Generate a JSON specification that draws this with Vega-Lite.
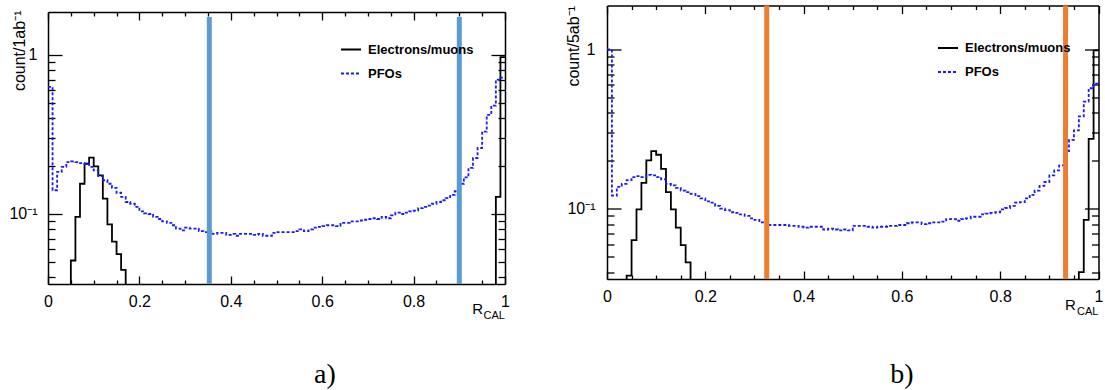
{
  "$schema": "https://vega.github.io/schema/vega-lite/v6.json",
  "padding": {"left": 8, "top": 2.5, "right": 0, "bottom": 0},
  "background": "white",
  "spacing": 54,
  "resolve": {"scale": {"color": "independent", "strokeDash": "independent"}},
  "config": {
    "view": {"stroke": null},
    "font": "Liberation Sans",
    "axis": {"grid": false, "domainColor": "#000000", "domainWidth": 1.5, "tickColor": "#000000", "tickWidth": 1.3, "labelFont": "Liberation Sans", "labelFontSize": 16, "labelColor": "#000000", "titleFont": "Liberation Sans", "titleFontWeight": "normal", "titleColor": "#000000", "titleFontSize": 16, "labelFlush": false, "labelOverlap": false, "labelBound": false}
  },
  "datasets": {
    "histA": [
      {"edge": 0.04, "count": 0.001, "series": "Electrons/muons"},
      {"edge": 0.05, "count": 0.051, "series": "Electrons/muons"},
      {"edge": 0.06, "count": 0.096, "series": "Electrons/muons"},
      {"edge": 0.07, "count": 0.155, "series": "Electrons/muons"},
      {"edge": 0.08, "count": 0.207, "series": "Electrons/muons"},
      {"edge": 0.09, "count": 0.226, "series": "Electrons/muons"},
      {"edge": 0.10, "count": 0.199, "series": "Electrons/muons"},
      {"edge": 0.11, "count": 0.175, "series": "Electrons/muons"},
      {"edge": 0.12, "count": 0.125, "series": "Electrons/muons"},
      {"edge": 0.13, "count": 0.086, "series": "Electrons/muons"},
      {"edge": 0.14, "count": 0.067, "series": "Electrons/muons"},
      {"edge": 0.15, "count": 0.056, "series": "Electrons/muons"},
      {"edge": 0.16, "count": 0.0446, "series": "Electrons/muons"},
      {"edge": 0.17, "count": 0.001, "series": "Electrons/muons"},
      {"edge": 0.97, "count": 0.001, "series": "Electrons/muons"},
      {"edge": 0.98, "count": 0.128, "series": "Electrons/muons"},
      {"edge": 0.99, "count": 0.97, "series": "Electrons/muons"},
      {"edge": 1.00, "count": 0.97, "series": "Electrons/muons"},
      {"edge": 0.00, "count": 0.63, "series": "PFOs"},
      {"edge": 0.01, "count": 0.141, "series": "PFOs"},
      {"edge": 0.02, "count": 0.184, "series": "PFOs"},
      {"edge": 0.03, "count": 0.198, "series": "PFOs"},
      {"edge": 0.04, "count": 0.212, "series": "PFOs"},
      {"edge": 0.05, "count": 0.214, "series": "PFOs"},
      {"edge": 0.06, "count": 0.212, "series": "PFOs"},
      {"edge": 0.07, "count": 0.209, "series": "PFOs"},
      {"edge": 0.08, "count": 0.207, "series": "PFOs"},
      {"edge": 0.09, "count": 0.198, "series": "PFOs"},
      {"edge": 0.10, "count": 0.188, "series": "PFOs"},
      {"edge": 0.11, "count": 0.173, "series": "PFOs"},
      {"edge": 0.12, "count": 0.163, "series": "PFOs"},
      {"edge": 0.13, "count": 0.155, "series": "PFOs"},
      {"edge": 0.14, "count": 0.146, "series": "PFOs"},
      {"edge": 0.15, "count": 0.136, "series": "PFOs"},
      {"edge": 0.16, "count": 0.128, "series": "PFOs"},
      {"edge": 0.17, "count": 0.119, "series": "PFOs"},
      {"edge": 0.18, "count": 0.116, "series": "PFOs"},
      {"edge": 0.19, "count": 0.111, "series": "PFOs"},
      {"edge": 0.20, "count": 0.104, "series": "PFOs"},
      {"edge": 0.21, "count": 0.101, "series": "PFOs"},
      {"edge": 0.22, "count": 0.100, "series": "PFOs"},
      {"edge": 0.23, "count": 0.096, "series": "PFOs"},
      {"edge": 0.24, "count": 0.093, "series": "PFOs"},
      {"edge": 0.25, "count": 0.090, "series": "PFOs"},
      {"edge": 0.26, "count": 0.088, "series": "PFOs"},
      {"edge": 0.27, "count": 0.085, "series": "PFOs"},
      {"edge": 0.28, "count": 0.081, "series": "PFOs"},
      {"edge": 0.29, "count": 0.079, "series": "PFOs"},
      {"edge": 0.30, "count": 0.082, "series": "PFOs"},
      {"edge": 0.31, "count": 0.081, "series": "PFOs"},
      {"edge": 0.32, "count": 0.081, "series": "PFOs"},
      {"edge": 0.33, "count": 0.078, "series": "PFOs"},
      {"edge": 0.34, "count": 0.077, "series": "PFOs"},
      {"edge": 0.35, "count": 0.078, "series": "PFOs"},
      {"edge": 0.36, "count": 0.075, "series": "PFOs"},
      {"edge": 0.37, "count": 0.076, "series": "PFOs"},
      {"edge": 0.38, "count": 0.076, "series": "PFOs"},
      {"edge": 0.39, "count": 0.074, "series": "PFOs"},
      {"edge": 0.40, "count": 0.075, "series": "PFOs"},
      {"edge": 0.41, "count": 0.073, "series": "PFOs"},
      {"edge": 0.42, "count": 0.075, "series": "PFOs"},
      {"edge": 0.43, "count": 0.075, "series": "PFOs"},
      {"edge": 0.44, "count": 0.075, "series": "PFOs"},
      {"edge": 0.45, "count": 0.074, "series": "PFOs"},
      {"edge": 0.46, "count": 0.075, "series": "PFOs"},
      {"edge": 0.47, "count": 0.073, "series": "PFOs"},
      {"edge": 0.48, "count": 0.073, "series": "PFOs"},
      {"edge": 0.49, "count": 0.076, "series": "PFOs"},
      {"edge": 0.50, "count": 0.077, "series": "PFOs"},
      {"edge": 0.51, "count": 0.077, "series": "PFOs"},
      {"edge": 0.52, "count": 0.077, "series": "PFOs"},
      {"edge": 0.53, "count": 0.077, "series": "PFOs"},
      {"edge": 0.54, "count": 0.078, "series": "PFOs"},
      {"edge": 0.55, "count": 0.080, "series": "PFOs"},
      {"edge": 0.56, "count": 0.078, "series": "PFOs"},
      {"edge": 0.57, "count": 0.080, "series": "PFOs"},
      {"edge": 0.58, "count": 0.082, "series": "PFOs"},
      {"edge": 0.59, "count": 0.083, "series": "PFOs"},
      {"edge": 0.60, "count": 0.084, "series": "PFOs"},
      {"edge": 0.61, "count": 0.085, "series": "PFOs"},
      {"edge": 0.62, "count": 0.085, "series": "PFOs"},
      {"edge": 0.63, "count": 0.084, "series": "PFOs"},
      {"edge": 0.64, "count": 0.088, "series": "PFOs"},
      {"edge": 0.65, "count": 0.088, "series": "PFOs"},
      {"edge": 0.66, "count": 0.090, "series": "PFOs"},
      {"edge": 0.67, "count": 0.090, "series": "PFOs"},
      {"edge": 0.68, "count": 0.091, "series": "PFOs"},
      {"edge": 0.69, "count": 0.092, "series": "PFOs"},
      {"edge": 0.70, "count": 0.093, "series": "PFOs"},
      {"edge": 0.71, "count": 0.094, "series": "PFOs"},
      {"edge": 0.72, "count": 0.093, "series": "PFOs"},
      {"edge": 0.73, "count": 0.096, "series": "PFOs"},
      {"edge": 0.74, "count": 0.094, "series": "PFOs"},
      {"edge": 0.75, "count": 0.098, "series": "PFOs"},
      {"edge": 0.76, "count": 0.102, "series": "PFOs"},
      {"edge": 0.77, "count": 0.100, "series": "PFOs"},
      {"edge": 0.78, "count": 0.102, "series": "PFOs"},
      {"edge": 0.79, "count": 0.104, "series": "PFOs"},
      {"edge": 0.80, "count": 0.105, "series": "PFOs"},
      {"edge": 0.81, "count": 0.109, "series": "PFOs"},
      {"edge": 0.82, "count": 0.111, "series": "PFOs"},
      {"edge": 0.83, "count": 0.113, "series": "PFOs"},
      {"edge": 0.84, "count": 0.116, "series": "PFOs"},
      {"edge": 0.85, "count": 0.119, "series": "PFOs"},
      {"edge": 0.86, "count": 0.122, "series": "PFOs"},
      {"edge": 0.87, "count": 0.126, "series": "PFOs"},
      {"edge": 0.88, "count": 0.132, "series": "PFOs"},
      {"edge": 0.89, "count": 0.139, "series": "PFOs"},
      {"edge": 0.90, "count": 0.155, "series": "PFOs"},
      {"edge": 0.91, "count": 0.170, "series": "PFOs"},
      {"edge": 0.92, "count": 0.195, "series": "PFOs"},
      {"edge": 0.93, "count": 0.225, "series": "PFOs"},
      {"edge": 0.94, "count": 0.26, "series": "PFOs"},
      {"edge": 0.95, "count": 0.33, "series": "PFOs"},
      {"edge": 0.96, "count": 0.42, "series": "PFOs"},
      {"edge": 0.97, "count": 0.48, "series": "PFOs"},
      {"edge": 0.98, "count": 0.70, "series": "PFOs"},
      {"edge": 0.99, "count": 0.72, "series": "PFOs"},
      {"edge": 1.00, "count": 0.72, "series": "PFOs"}
    ],
    "histB": [
      {"edge": 0.03, "count": 0.001, "series": "Electrons/muons"},
      {"edge": 0.04, "count": 0.038, "series": "Electrons/muons"},
      {"edge": 0.05, "count": 0.0634, "series": "Electrons/muons"},
      {"edge": 0.06, "count": 0.099, "series": "Electrons/muons"},
      {"edge": 0.07, "count": 0.145, "series": "Electrons/muons"},
      {"edge": 0.08, "count": 0.201, "series": "Electrons/muons"},
      {"edge": 0.09, "count": 0.230, "series": "Electrons/muons"},
      {"edge": 0.10, "count": 0.218, "series": "Electrons/muons"},
      {"edge": 0.11, "count": 0.178, "series": "Electrons/muons"},
      {"edge": 0.12, "count": 0.127, "series": "Electrons/muons"},
      {"edge": 0.13, "count": 0.099, "series": "Electrons/muons"},
      {"edge": 0.14, "count": 0.076, "series": "Electrons/muons"},
      {"edge": 0.15, "count": 0.059, "series": "Electrons/muons"},
      {"edge": 0.16, "count": 0.046, "series": "Electrons/muons"},
      {"edge": 0.17, "count": 0.001, "series": "Electrons/muons"},
      {"edge": 0.95, "count": 0.001, "series": "Electrons/muons"},
      {"edge": 0.96, "count": 0.040, "series": "Electrons/muons"},
      {"edge": 0.97, "count": 0.085, "series": "Electrons/muons"},
      {"edge": 0.98, "count": 0.274, "series": "Electrons/muons"},
      {"edge": 0.99, "count": 0.986, "series": "Electrons/muons"},
      {"edge": 1.00, "count": 0.986, "series": "Electrons/muons"},
      {"edge": 0.00, "count": 1.0, "series": "PFOs"},
      {"edge": 0.01, "count": 0.121, "series": "PFOs"},
      {"edge": 0.02, "count": 0.137, "series": "PFOs"},
      {"edge": 0.03, "count": 0.143, "series": "PFOs"},
      {"edge": 0.04, "count": 0.151, "series": "PFOs"},
      {"edge": 0.05, "count": 0.158, "series": "PFOs"},
      {"edge": 0.06, "count": 0.160, "series": "PFOs"},
      {"edge": 0.07, "count": 0.158, "series": "PFOs"},
      {"edge": 0.08, "count": 0.163, "series": "PFOs"},
      {"edge": 0.09, "count": 0.162, "series": "PFOs"},
      {"edge": 0.10, "count": 0.158, "series": "PFOs"},
      {"edge": 0.11, "count": 0.153, "series": "PFOs"},
      {"edge": 0.12, "count": 0.143, "series": "PFOs"},
      {"edge": 0.13, "count": 0.140, "series": "PFOs"},
      {"edge": 0.14, "count": 0.135, "series": "PFOs"},
      {"edge": 0.15, "count": 0.130, "series": "PFOs"},
      {"edge": 0.16, "count": 0.127, "series": "PFOs"},
      {"edge": 0.17, "count": 0.124, "series": "PFOs"},
      {"edge": 0.18, "count": 0.120, "series": "PFOs"},
      {"edge": 0.19, "count": 0.116, "series": "PFOs"},
      {"edge": 0.20, "count": 0.111, "series": "PFOs"},
      {"edge": 0.21, "count": 0.109, "series": "PFOs"},
      {"edge": 0.22, "count": 0.104, "series": "PFOs"},
      {"edge": 0.23, "count": 0.100, "series": "PFOs"},
      {"edge": 0.24, "count": 0.098, "series": "PFOs"},
      {"edge": 0.25, "count": 0.095, "series": "PFOs"},
      {"edge": 0.26, "count": 0.094, "series": "PFOs"},
      {"edge": 0.27, "count": 0.092, "series": "PFOs"},
      {"edge": 0.28, "count": 0.090, "series": "PFOs"},
      {"edge": 0.29, "count": 0.087, "series": "PFOs"},
      {"edge": 0.30, "count": 0.085, "series": "PFOs"},
      {"edge": 0.31, "count": 0.082, "series": "PFOs"},
      {"edge": 0.32, "count": 0.082, "series": "PFOs"},
      {"edge": 0.33, "count": 0.079, "series": "PFOs"},
      {"edge": 0.34, "count": 0.079, "series": "PFOs"},
      {"edge": 0.35, "count": 0.079, "series": "PFOs"},
      {"edge": 0.36, "count": 0.079, "series": "PFOs"},
      {"edge": 0.37, "count": 0.078, "series": "PFOs"},
      {"edge": 0.38, "count": 0.078, "series": "PFOs"},
      {"edge": 0.39, "count": 0.077, "series": "PFOs"},
      {"edge": 0.40, "count": 0.076, "series": "PFOs"},
      {"edge": 0.41, "count": 0.077, "series": "PFOs"},
      {"edge": 0.42, "count": 0.077, "series": "PFOs"},
      {"edge": 0.43, "count": 0.077, "series": "PFOs"},
      {"edge": 0.44, "count": 0.074, "series": "PFOs"},
      {"edge": 0.45, "count": 0.075, "series": "PFOs"},
      {"edge": 0.46, "count": 0.074, "series": "PFOs"},
      {"edge": 0.47, "count": 0.073, "series": "PFOs"},
      {"edge": 0.48, "count": 0.074, "series": "PFOs"},
      {"edge": 0.49, "count": 0.073, "series": "PFOs"},
      {"edge": 0.50, "count": 0.078, "series": "PFOs"},
      {"edge": 0.51, "count": 0.078, "series": "PFOs"},
      {"edge": 0.52, "count": 0.078, "series": "PFOs"},
      {"edge": 0.53, "count": 0.077, "series": "PFOs"},
      {"edge": 0.54, "count": 0.076, "series": "PFOs"},
      {"edge": 0.55, "count": 0.077, "series": "PFOs"},
      {"edge": 0.56, "count": 0.077, "series": "PFOs"},
      {"edge": 0.57, "count": 0.078, "series": "PFOs"},
      {"edge": 0.58, "count": 0.078, "series": "PFOs"},
      {"edge": 0.59, "count": 0.079, "series": "PFOs"},
      {"edge": 0.60, "count": 0.079, "series": "PFOs"},
      {"edge": 0.61, "count": 0.081, "series": "PFOs"},
      {"edge": 0.62, "count": 0.082, "series": "PFOs"},
      {"edge": 0.63, "count": 0.082, "series": "PFOs"},
      {"edge": 0.64, "count": 0.080, "series": "PFOs"},
      {"edge": 0.65, "count": 0.081, "series": "PFOs"},
      {"edge": 0.66, "count": 0.082, "series": "PFOs"},
      {"edge": 0.67, "count": 0.082, "series": "PFOs"},
      {"edge": 0.68, "count": 0.083, "series": "PFOs"},
      {"edge": 0.69, "count": 0.086, "series": "PFOs"},
      {"edge": 0.70, "count": 0.086, "series": "PFOs"},
      {"edge": 0.71, "count": 0.084, "series": "PFOs"},
      {"edge": 0.72, "count": 0.086, "series": "PFOs"},
      {"edge": 0.73, "count": 0.087, "series": "PFOs"},
      {"edge": 0.74, "count": 0.089, "series": "PFOs"},
      {"edge": 0.75, "count": 0.089, "series": "PFOs"},
      {"edge": 0.76, "count": 0.092, "series": "PFOs"},
      {"edge": 0.77, "count": 0.093, "series": "PFOs"},
      {"edge": 0.78, "count": 0.094, "series": "PFOs"},
      {"edge": 0.79, "count": 0.095, "series": "PFOs"},
      {"edge": 0.80, "count": 0.099, "series": "PFOs"},
      {"edge": 0.81, "count": 0.101, "series": "PFOs"},
      {"edge": 0.82, "count": 0.104, "series": "PFOs"},
      {"edge": 0.83, "count": 0.109, "series": "PFOs"},
      {"edge": 0.84, "count": 0.110, "series": "PFOs"},
      {"edge": 0.85, "count": 0.116, "series": "PFOs"},
      {"edge": 0.86, "count": 0.122, "series": "PFOs"},
      {"edge": 0.87, "count": 0.130, "series": "PFOs"},
      {"edge": 0.88, "count": 0.139, "series": "PFOs"},
      {"edge": 0.89, "count": 0.147, "series": "PFOs"},
      {"edge": 0.90, "count": 0.162, "series": "PFOs"},
      {"edge": 0.91, "count": 0.174, "series": "PFOs"},
      {"edge": 0.92, "count": 0.187, "series": "PFOs"},
      {"edge": 0.93, "count": 0.23, "series": "PFOs"},
      {"edge": 0.94, "count": 0.27, "series": "PFOs"},
      {"edge": 0.95, "count": 0.31, "series": "PFOs"},
      {"edge": 0.96, "count": 0.38, "series": "PFOs"},
      {"edge": 0.97, "count": 0.47, "series": "PFOs"},
      {"edge": 0.98, "count": 0.57, "series": "PFOs"},
      {"edge": 0.99, "count": 0.61, "series": "PFOs"},
      {"edge": 1.00, "count": 0.61, "series": "PFOs"}
    ],
    "cutsA": [{"cut": 0.353}, {"cut": 0.900}],
    "cutsB": [{"cut": 0.325}, {"cut": 0.933}]
  },
  "hconcat": [
    {
      "spacing": 3.5,
      "vconcat": [
        {
          "width": 457,
          "height": 1,
          "data": {"values": []},
          "mark": "point"
        },
        {
          "width": 457,
          "height": 272,
          "resolve": {"axis": {"x": "independent", "y": "independent"}},
          "layer": [
            {
              "data": {"name": "histA"},
              "mark": {"type": "line", "interpolate": "step-after", "clip": true, "strokeWidth": 1.8},
              "encoding": {
                "x": {"field": "edge", "type": "quantitative", "scale": {"domain": [0, 1], "nice": false, "zero": false},
                  "axis": {"orient": "bottom", "title": null, "values": [0,0.05,0.1,0.15,0.2,0.25,0.3,0.35,0.4,0.45,0.5,0.55,0.6,0.65,0.7,0.75,0.8,0.85,0.9,0.95,1],
                    "labelExpr": "round(datum.value*100) % 20 == 0 ? format(datum.value, '~g') : ''",
                    "tickSize": {"condition": {"test": "round(datum.value*100) % 20 == 0", "value": -8}, "value": -4},
                    "labelPadding": 17}},
                "y": {"field": "count", "type": "quantitative", "scale": {"type": "log", "domain": [0.0363, 1.862], "nice": false},
                  "axis": {"orient": "left", "values": [0.04,0.05,0.06,0.07,0.08,0.09,0.1,0.2,0.3,0.4,0.5,0.6,0.7,0.8,0.9,1],
                    "labelExpr": "datum.value == 1 ? '1' : (datum.value == 0.1 ? '10⁻¹' : '')",
                    "tickSize": {"condition": {"test": "datum.value == 1 || datum.value == 0.1", "value": -14}, "value": -7},
                    "labelPadding": 25,
                    "title": "count/1ab⁻¹", "titleX": -29, "titleY": -2, "titleAlign": "right", "titleBaseline": "middle", "titleAngle": -90}},
                "color": {"field": "series", "type": "nominal", "scale": {"domain": ["Electrons/muons", "PFOs"], "range": ["#000000", "#1a1aff"]},
                  "legend": {"orient": "none", "legendX": 292, "legendY": 33, "title": null, "symbolType": "stroke", "symbolSize": 400, "symbolStrokeWidth": 2, "labelFont": "Liberation Sans", "labelFontSize": 13, "labelFontWeight": "bold", "labelColor": "#000000", "labelOffset": 6, "rowPadding": 6, "padding": 0}},
                "strokeDash": {"field": "series", "type": "nominal", "scale": {"domain": ["Electrons/muons", "PFOs"], "range": [[1, 0], [3, 2]]},
                  "legend": {"orient": "none", "legendX": 292, "legendY": 33, "title": null}}
              }
            },
            {
              "data": {"name": "cutsA"},
              "mark": {"type": "rule", "color": "#5b9bd5", "strokeWidth": 5},
              "encoding": {
                "x": {"field": "cut", "type": "quantitative", "scale": {"domain": [0, 1], "nice": false, "zero": false}, "axis": null},
                "y": {"datum": 1.73, "type": "quantitative", "scale": {"type": "log", "domain": [0.0363, 1.862], "nice": false}, "axis": null},
                "y2": {"datum": 0.0363}
              }
            },
            {
              "data": {"values": [{"label": "R"}]},
              "mark": {"type": "text", "align": "right", "baseline": "alphabetic", "dx": -22, "dy": 30, "fontSize": 15, "font": "Liberation Sans", "color": "#000000"},
              "encoding": {
                "text": {"field": "label"},
                "x": {"datum": 1, "type": "quantitative", "scale": {"domain": [0, 1], "nice": false, "zero": false},
                  "axis": {"orient": "top", "labels": false, "title": null, "values": [0,0.05,0.1,0.15,0.2,0.25,0.3,0.35,0.4,0.45,0.5,0.55,0.6,0.65,0.7,0.75,0.8,0.85,0.9,0.95,1],
                    "tickSize": {"condition": {"test": "round(datum.value*100) % 20 == 0", "value": -8}, "value": -4}, "minExtent": 1, "maxExtent": 1}},
                "y": {"datum": 0.0363, "type": "quantitative", "scale": {"type": "log", "domain": [0.0363, 1.862], "nice": false},
                  "axis": {"orient": "right", "labels": false, "title": null, "values": [0.04,0.05,0.06,0.07,0.08,0.09,0.1,0.2,0.3,0.4,0.5,0.6,0.7,0.8,0.9,1],
                    "tickSize": {"condition": {"test": "datum.value == 1 || datum.value == 0.1", "value": -14}, "value": -7}, "minExtent": 1, "maxExtent": 1}}
              }
            },
            {
              "data": {"values": [{"label": "CAL"}]},
              "mark": {"type": "text", "align": "right", "baseline": "alphabetic", "dx": 0, "dy": 35, "fontSize": 11, "font": "Liberation Sans", "color": "#000000"},
              "encoding": {
                "text": {"field": "label"},
                "x": {"datum": 1, "type": "quantitative", "scale": {"domain": [0, 1], "nice": false, "zero": false}, "axis": null},
                "y": {"datum": 0.0363, "type": "quantitative", "scale": {"type": "log", "domain": [0.0363, 1.862], "nice": false}, "axis": null}
              }
            },
            {
              "data": {"values": [{"label": "a)"}]},
              "mark": {"type": "text", "align": "center", "baseline": "alphabetic", "dy": 99, "fontSize": 28, "font": "Liberation Serif", "color": "#000000"},
              "encoding": {
                "text": {"field": "label"},
                "x": {"datum": 0.606, "type": "quantitative", "scale": {"domain": [0, 1], "nice": false, "zero": false}, "axis": null},
                "y": {"datum": 0.0363, "type": "quantitative", "scale": {"type": "log", "domain": [0.0363, 1.862], "nice": false}, "axis": null}
              }
            }
          ]
        }
      ]
    },
    {
      "width": 491.5,
      "height": 273.5,
      "resolve": {"axis": {"x": "independent", "y": "independent"}},
      "layer": [
        {
          "data": {"name": "histB"},
          "mark": {"type": "line", "interpolate": "step-after", "clip": true, "strokeWidth": 1.8},
          "encoding": {
            "x": {"field": "edge", "type": "quantitative", "scale": {"domain": [0, 1], "nice": false, "zero": false},
              "axis": {"orient": "bottom", "title": null, "values": [0,0.05,0.1,0.15,0.2,0.25,0.3,0.35,0.4,0.45,0.5,0.55,0.6,0.65,0.7,0.75,0.8,0.85,0.9,0.95,1],
                "labelExpr": "round(datum.value*100) % 20 == 0 ? format(datum.value, '~g') : ''",
                "tickSize": {"condition": {"test": "round(datum.value*100) % 20 == 0", "value": -8}, "value": -4},
                "labelPadding": 17}},
            "y": {"field": "count", "type": "quantitative", "scale": {"type": "log", "domain": [0.0362, 1.884], "nice": false},
              "axis": {"orient": "left", "values": [0.04,0.05,0.06,0.07,0.08,0.09,0.1,0.2,0.3,0.4,0.5,0.6,0.7,0.8,0.9,1],
                "labelExpr": "datum.value == 1 ? '1' : (datum.value == 0.1 ? '10⁻¹' : '')",
                "tickSize": {"condition": {"test": "datum.value == 1 || datum.value == 0.1", "value": -14}, "value": -7},
                "labelPadding": 26,
                "title": "count/5ab⁻¹", "titleX": -34, "titleY": 0, "titleAlign": "right", "titleBaseline": "middle", "titleAngle": -90}},
            "color": {"field": "series", "type": "nominal", "scale": {"domain": ["Electrons/muons", "PFOs"], "range": ["#000000", "#1a1aff"]},
              "legend": {"orient": "none", "legendX": 330, "legendY": 31.5, "title": null, "symbolType": "stroke", "symbolSize": 400, "symbolStrokeWidth": 2, "labelFont": "Liberation Sans", "labelFontSize": 13, "labelFontWeight": "bold", "labelColor": "#000000", "labelOffset": 6, "rowPadding": 6, "padding": 0}},
            "strokeDash": {"field": "series", "type": "nominal", "scale": {"domain": ["Electrons/muons", "PFOs"], "range": [[1, 0], [3, 2]]},
              "legend": {"orient": "none", "legendX": 330, "legendY": 31.5, "title": null}}
          }
        },
        {
          "data": {"name": "cutsB"},
          "mark": {"type": "rule", "color": "#ed7d31", "strokeWidth": 5},
          "encoding": {
            "x": {"field": "cut", "type": "quantitative", "scale": {"domain": [0, 1], "nice": false, "zero": false}, "axis": null}
          }
        },
        {
          "data": {"values": [{"label": "R"}]},
          "mark": {"type": "text", "align": "right", "baseline": "alphabetic", "dx": -22.6, "dy": 31, "fontSize": 15, "font": "Liberation Sans", "color": "#000000"},
          "encoding": {
            "text": {"field": "label"},
            "x": {"datum": 1, "type": "quantitative", "scale": {"domain": [0, 1], "nice": false, "zero": false},
              "axis": {"orient": "top", "labels": false, "title": null, "values": [0,0.05,0.1,0.15,0.2,0.25,0.3,0.35,0.4,0.45,0.5,0.55,0.6,0.65,0.7,0.75,0.8,0.85,0.9,0.95,1],
                "tickSize": {"condition": {"test": "round(datum.value*100) % 20 == 0", "value": -8}, "value": -4}, "minExtent": 1, "maxExtent": 1}},
            "y": {"datum": 0.0362, "type": "quantitative", "scale": {"type": "log", "domain": [0.0362, 1.884], "nice": false},
              "axis": {"orient": "right", "labels": false, "title": null, "values": [0.04,0.05,0.06,0.07,0.08,0.09,0.1,0.2,0.3,0.4,0.5,0.6,0.7,0.8,0.9,1],
                "tickSize": {"condition": {"test": "datum.value == 1 || datum.value == 0.1", "value": -14}, "value": -7}, "minExtent": 1, "maxExtent": 1}}
          }
        },
        {
          "data": {"values": [{"label": "CAL"}]},
          "mark": {"type": "text", "align": "right", "baseline": "alphabetic", "dx": 0, "dy": 36, "fontSize": 11, "font": "Liberation Sans", "color": "#000000"},
          "encoding": {
            "text": {"field": "label"},
            "x": {"datum": 1, "type": "quantitative", "scale": {"domain": [0, 1], "nice": false, "zero": false}, "axis": null},
            "y": {"datum": 0.0362, "type": "quantitative", "scale": {"type": "log", "domain": [0.0362, 1.884], "nice": false}, "axis": null}
          }
        },
        {
          "data": {"values": [{"label": "b)"}]},
          "mark": {"type": "text", "align": "center", "baseline": "alphabetic", "dy": 104, "fontSize": 28, "font": "Liberation Serif", "color": "#000000"},
          "encoding": {
            "text": {"field": "label"},
            "x": {"datum": 0.6, "type": "quantitative", "scale": {"domain": [0, 1], "nice": false, "zero": false}, "axis": null},
            "y": {"datum": 0.0362, "type": "quantitative", "scale": {"type": "log", "domain": [0.0362, 1.884], "nice": false}, "axis": null}
          }
        }
      ]
    }
  ]
}
